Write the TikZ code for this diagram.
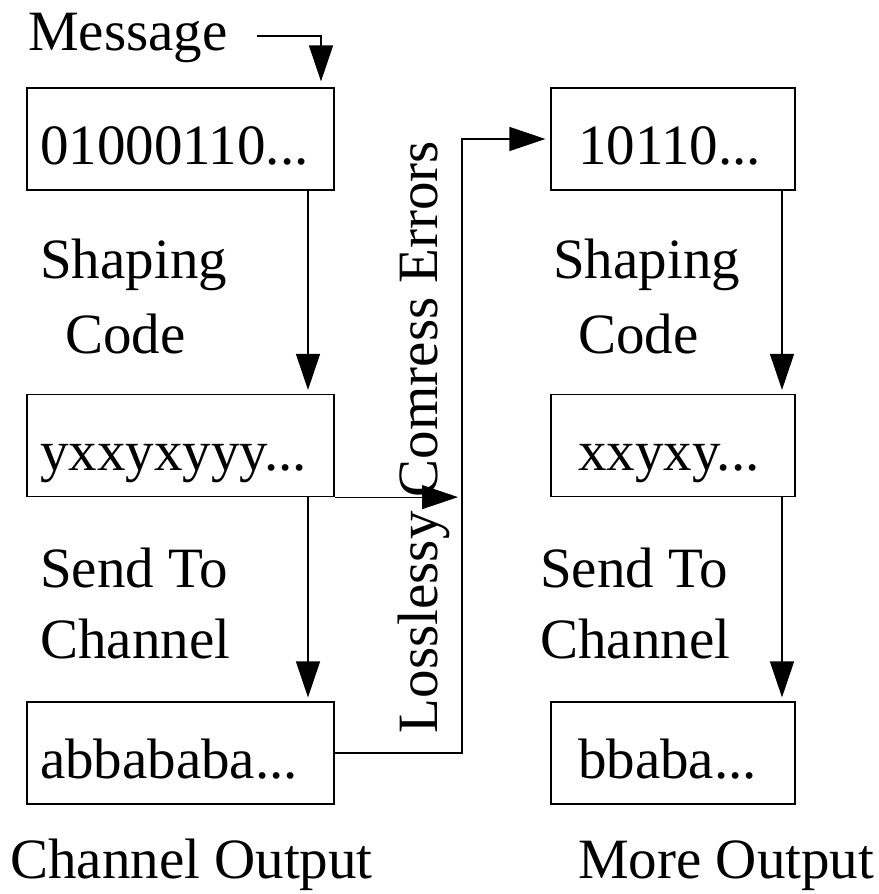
\documentclass[tikz,border=0pt]{standalone}
\usepackage{fontspec}
\setmainfont{Liberation Serif}
\usetikzlibrary{arrows.meta}
\begin{document}
\begin{tikzpicture}[x=1pt,y=-1pt,
  every node/.style={font=\fontsize{57}{68}\selectfont},
  lbl/.style={anchor=base west,inner sep=0pt},
  boxL/.style={draw,line width=1.2pt,minimum height=102pt,text width=281pt,align=left,inner xsep=13pt,inner ysep=0pt,text height=52pt,text depth=2pt},
  boxR/.style={draw,line width=1.2pt,minimum height=102pt,text width=190pt,align=left,inner xsep=27pt,inner ysep=0pt,text height=52pt,text depth=2pt},
  arr/.style={line width=1.2pt,-{Triangle[length=36pt,width=24pt]}},
  ln/.style={line width=1.2pt}]
\useasboundingbox (0,0) rectangle (878,894);
% boxes
\node[boxL] (b1) at (180.5,139) {01000110...};
\node[boxL] (b2) at (180.5,445.5) {yxxyxyyy...};
\node[boxL] (b3) at (180.5,753) {abbababa...};
\node[boxR] (r1) at (673,139) {10110...};
\node[boxR] (r2) at (673,445.5) {xxyxy...};
\node[boxR] (r3) at (673,753) {bbaba...};
% labels
\node[lbl] (msg) at (28,50) {Message};
\node[lbl] (sh1) at (40,278) {Shaping};
\node[lbl] (cd1) at (65,353) {Code};
\node[lbl] (st1) at (40,587) {Send To};
\node[lbl] (ch1) at (40,658) {Channel};
\node[lbl] (co) at (10,878) {Channel Output};
\node[lbl] (sh2) at (553,278) {Shaping};
\node[lbl] (cd2) at (578,353) {Code};
\node[lbl] (st2) at (540,587) {Send To};
\node[lbl] (ch2) at (540,658) {Channel};
\node[lbl] (mo) at (578,878) {More Output};
\node[rotate=90,anchor=base,inner sep=0pt] (lce) at (437,437) {Losslessy Comress Errors};
% coordinates
\coordinate (m1) at (257,36);
\coordinate (mx) at (321,0);
\coordinate (ax) at (308,0);
\coordinate (rx) at (782,0);
\coordinate (vx) at (462,0);
% connectors
\draw[arr,shorten >=6pt] (m1) -| (b1.north -| mx);
\draw[arr,shorten >=4pt] (b1.south -| ax) -- (b2.north -| ax);
\draw[arr,shorten >=4pt] (b2.south -| ax) -- (b3.north -| ax);
\draw[arr,shorten >=4pt] (r1.south -| rx) -- (r2.north -| rx);
\draw[arr,shorten >=4pt] (r2.south -| rx) -- (r3.north -| rx);
\draw[arr,shorten >=5pt] (b3.east) -| (r1.west -| vx) -- (r1.west);
\draw[arr,shorten >=4pt] (b2.south east) -- (b2.south east -| vx);
\end{tikzpicture}
\end{document}
